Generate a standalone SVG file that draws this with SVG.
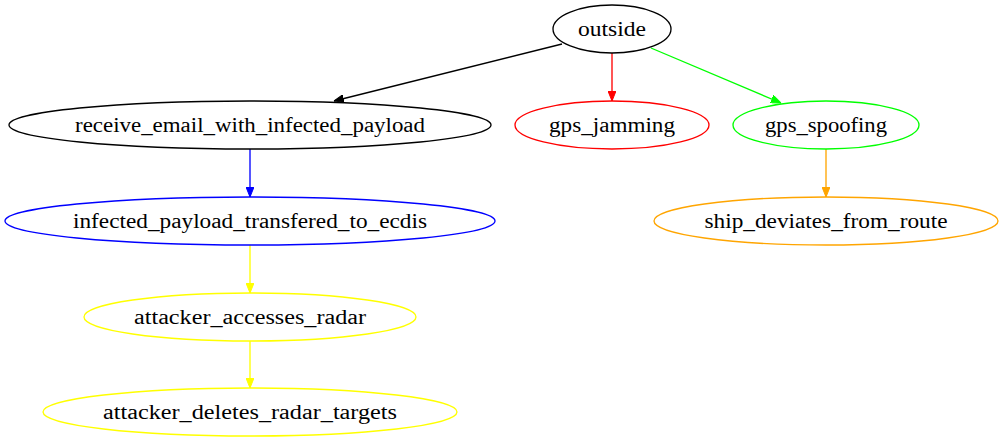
<svg xmlns="http://www.w3.org/2000/svg" width="1004" height="443" viewBox="0 0 1004 443">
<defs>
<style>
text{font-family:"Liberation Serif","Times New Roman",serif;font-size:20px;text-anchor:middle;fill:#000}
ellipse{fill:none;stroke-width:1.33}
.e{fill:none;stroke-width:1.33}
</style>
<marker id="aK" markerWidth="10" markerHeight="8" refX="10" refY="4" orient="auto" markerUnits="userSpaceOnUse"><path d="M0,0L10,4L0,8z" fill="#000" stroke="#000"/></marker>
<marker id="aR" markerWidth="10" markerHeight="8" refX="10" refY="4" orient="auto" markerUnits="userSpaceOnUse"><path d="M0,0L10,4L0,8z" fill="#f00" stroke="#f00"/></marker>
<marker id="aG" markerWidth="10" markerHeight="8" refX="10" refY="4" orient="auto" markerUnits="userSpaceOnUse"><path d="M0,0L10,4L0,8z" fill="#0f0" stroke="#0f0"/></marker>
<marker id="aB" markerWidth="10" markerHeight="8" refX="10" refY="4" orient="auto" markerUnits="userSpaceOnUse"><path d="M0,0L10,4L0,8z" fill="#00f" stroke="#00f"/></marker>
<marker id="aO" markerWidth="10" markerHeight="8" refX="10" refY="4" orient="auto" markerUnits="userSpaceOnUse"><path d="M0,0L10,4L0,8z" fill="#ffa500" stroke="#ffa500"/></marker>
<marker id="aY" markerWidth="10" markerHeight="8" refX="10" refY="4" orient="auto" markerUnits="userSpaceOnUse"><path d="M0,0L10,4L0,8z" fill="#ff0" stroke="#ff0"/></marker>
</defs>
<rect width="1004" height="443" fill="#fff"/>
<g id="edges">
<path class="e" d="M562,44L334,101" stroke="#000" marker-end="url(#aK)"/>
<path class="e" d="M612,53L612,101" stroke="#f00" marker-end="url(#aR)"/>
<path class="e" d="M651,48L781,103" stroke="#0f0" marker-end="url(#aG)"/>
<path class="e" d="M250,149L250,197" stroke="#00f" marker-end="url(#aB)"/>
<path class="e" d="M826,149L826,197" stroke="#ffa500" marker-end="url(#aO)"/>
<path class="e" d="M250,245L250,293" stroke="#ff0" marker-end="url(#aY)"/>
<path class="e" d="M250,341L250,388" stroke="#ff0" marker-end="url(#aY)"/>
</g>
<g id="outside"><ellipse cx="612" cy="29" rx="59" ry="24" stroke="#000"/><text x="612" y="35.5" textLength="68" lengthAdjust="spacingAndGlyphs">outside</text></g>
<g id="receive_email_with_infected_payload"><ellipse cx="250" cy="125" rx="241" ry="24" stroke="#000"/><text x="250" y="131.5" textLength="350" lengthAdjust="spacingAndGlyphs">receive_email_with_infected_payload</text></g>
<g id="gps_jamming"><ellipse cx="612" cy="125" rx="97" ry="24" stroke="#f00"/><text x="612" y="131.5" textLength="126" lengthAdjust="spacingAndGlyphs">gps_jamming</text></g>
<g id="gps_spoofing"><ellipse cx="826" cy="125" rx="93" ry="24" stroke="#0f0"/><text x="826" y="131.5" textLength="122" lengthAdjust="spacingAndGlyphs">gps_spoofing</text></g>
<g id="infected_payload_transfered_to_ecdis"><ellipse cx="250" cy="221" rx="245" ry="24" stroke="#00f"/><text x="250" y="227.5" textLength="354" lengthAdjust="spacingAndGlyphs">infected_payload_transfered_to_ecdis</text></g>
<g id="ship_deviates_from_route"><ellipse cx="826" cy="221" rx="172" ry="24" stroke="#ffa500"/><text x="826" y="227.5" textLength="243" lengthAdjust="spacingAndGlyphs">ship_deviates_from_route</text></g>
<g id="attacker_accesses_radar"><ellipse cx="250" cy="317" rx="166" ry="24" stroke="#ff0"/><text x="250" y="323.5" textLength="232" lengthAdjust="spacingAndGlyphs">attacker_accesses_radar</text></g>
<g id="attacker_deletes_radar_targets"><ellipse cx="250" cy="412" rx="207" ry="24" stroke="#ff0"/><text x="250" y="418.5" textLength="294" lengthAdjust="spacingAndGlyphs">attacker_deletes_radar_targets</text></g>
</svg>
